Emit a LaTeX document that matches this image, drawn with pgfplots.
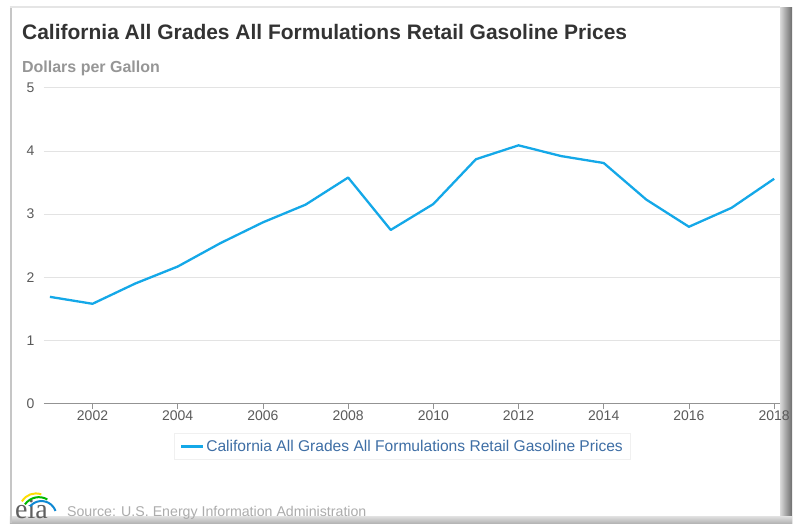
\documentclass[border=0pt]{standalone}
\usepackage{pgfplots}
\pgfplotsset{compat=1.18}
\usepackage{fontspec}
\setmainfont{Liberation Sans}
\newfontfamily\seriffont{Liberation Serif}
\definecolor{linecol}{RGB}{20,168,232}
\definecolor{titlecol}{RGB}{51,51,51}
\definecolor{subcol}{RGB}{150,150,150}
\definecolor{legcol}{RGB}{62,110,165}
\definecolor{ticklab}{RGB}{90,90,90}
\pgfplotstableread{
year price
2001 1.69
2002 1.58
2003 1.90
2004 2.17
2005 2.54
2006 2.87
2007 3.15
2008 3.58
2009 2.75
2010 3.16
2011 3.87
2012 4.09
2013 3.92
2014 3.81
2015 3.23
2016 2.80
2017 3.10
2018 3.56
}\prices
\begin{document}
\begin{tikzpicture}
\begin{scope}[x=1pt,y=1pt]
\useasboundingbox (0,0) rectangle (793,524);
% frame and shadows
\fill[white] (0,0) rectangle (793,524);
\shade[left color=gray!30, right color=gray!85!black] (781,0) rectangle (793,516);
\shade[top color=gray!25, bottom color=gray!60] (10,0) rectangle (793,7);
\fill[gray!45] (10,0) rectangle (12,517);
\draw[gray!20, line width=1.5pt] (10,517) -- (781,517);
\fill[white] (12,7) rectangle (781,516);
% title
\node[anchor=base west, inner sep=0, text=titlecol, font=\bfseries\fontsize{21}{24}\selectfont] at (22,524-40) {California All Grades All Formulations Retail Gasoline Prices};
\node[anchor=base west, inner sep=0, text=subcol, font=\bfseries\fontsize{16}{18}\selectfont] at (22,524-73) {Dollars per Gallon};
% source with logo
\node[anchor=base west, inner sep=0, text=gray!65, font=\fontsize{14.2}{16}\selectfont] at (67,524-517) {Source: U.S. Energy Information Administration};
\node[anchor=base west, inner sep=0, text=gray!75!black, font=\seriffont\fontsize{28}{30}\selectfont] at (15,524-519) {eia};
\draw[yellow!80!orange, line width=2pt] (22,22) arc[start angle=150, end angle=70, radius=16];
\draw[green!60!black!70!green, line width=2pt] (25,19) arc[start angle=145, end angle=60, radius=17];
\draw[cyan!70!blue, line width=2pt] (30,17) arc[start angle=140, end angle=20, radius=15];
\end{scope}
\begin{axis}[
  at={(44pt,120pt)}, anchor=south west,
  scale only axis, width=737pt, height=316pt,
  xmin=2000.86, xmax=2018.14, ymin=0, ymax=5,
  axis x line*=bottom, axis y line*=left,
  x axis line style={-, draw=gray!85, line width=1pt},
  y axis line style={draw=none},
  xtick={2002,2004,...,2018}, ytick={0,1,2,3,4,5},
  tick align=outside, major tick length=5pt,
  xtick style={draw=gray!85, line width=0.8pt},
  ytick style={draw=none},
  ymajorgrids, grid style={draw=gray!22, line width=0.8pt},
  /pgf/number format/1000 sep={},
  /pgf/number format/assume math mode=true,
  ticklabel style={font=\fontsize{14}{16}\selectfont, text=ticklab},
  yticklabel style={xshift=-1pt},
  xticklabel style={yshift=1pt},
  legend style={at={(0.487,-0.136)}, anchor=center, draw=gray!12, line width=0.8pt,
    font=\fontsize{15.6}{17}\selectfont, text=legcol, inner xsep=6pt, inner ysep=5pt},
  legend image code/.code={\draw[#1] (0pt,0pt) -- (22pt,0pt);},
]
\addplot[linecol, line width=2.3pt, line join=round] table[x=year, y=price] {\prices};
\addlegendentry{California All Grades All Formulations Retail Gasoline Prices}
\end{axis}
\end{tikzpicture}
\end{document}
